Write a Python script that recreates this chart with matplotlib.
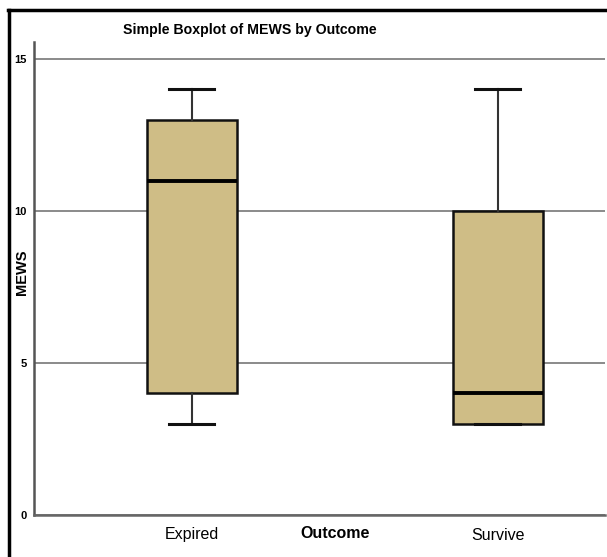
import matplotlib
matplotlib.use("Agg")
import matplotlib.pyplot as plt
from matplotlib.lines import Line2D

plt.rcParams['font.family'] = ['Liberation Sans', 'DejaVu Sans']

# summary values
categories = ['Expired', 'Survive']
whisker_low = [3, 3]
q1 = [4, 3]
medians = [11, 4]
q3 = [13, 10]
whisker_high = [14, 14]

box_color = '#CFBD86'

stats = []
for i, name in enumerate(categories):
    stats.append(dict(label=name, whislo=whisker_low[i], q1=q1[i], med=medians[i],
                      q3=q3[i], whishi=whisker_high[i], fliers=[]))

fig = plt.figure(figsize=(6.07, 5.57), dpi=100)
ax = fig.add_axes([34 / 607, 42 / 557, 571 / 607, 473 / 557])

ax.bxp(stats, positions=[1, 2], widths=0.294, capwidths=0.147, patch_artist=True,
       boxprops=dict(facecolor=box_color, edgecolor='#111111', linewidth=1.8),
       medianprops=dict(color='black', linewidth=2.8),
       whiskerprops=dict(color='#333333', linewidth=1.5),
       capprops=dict(color='#111111', linewidth=2.2),
       zorder=3)

ax.set_xlim(0.484, 2.35)
ax.set_ylim(0, 15.56)
ax.set_yticks([0, 5, 10, 15])
ax.yaxis.grid(True, color='#8a8a8a', linewidth=1.4, zorder=0)
ax.set_axisbelow(True)

for s in ['top', 'right']:
    ax.spines[s].set_visible(False)
ax.spines['left'].set_color('#555555')
ax.spines['left'].set_linewidth(1.8)
ax.spines['bottom'].set_color('#666666')
ax.spines['bottom'].set_linewidth(1.8)

ax.tick_params(axis='both', length=0)
ax.tick_params(axis='y', pad=5, labelsize=8)
for t in ax.get_yticklabels():
    t.set_fontweight('bold')
ax.tick_params(axis='x', pad=9, labelsize=11.5)

fig.text(22 / 607, 1 - 272 / 557, 'MEWS', fontsize=10.5, fontweight='bold',
         rotation=90, ha='center', va='center')
fig.text(335 / 607, 1 - 534 / 557, 'Outcome', fontsize=11.5, fontweight='bold',
         ha='center', va='center')
fig.text(250 / 607, 1 - 30 / 557, 'Simple Boxplot of MEWS by Outcome', fontsize=10.2,
         fontweight='bold', ha='center', va='center')

# outer frame (top and left edges)
fig.add_artist(Line2D([8 / 607, 605 / 607], [1 - 10 / 557, 1 - 10 / 557],
                      transform=fig.transFigure, color='black', linewidth=2.5))
fig.add_artist(Line2D([9 / 607, 9 / 607], [0, 1 - 10 / 557],
                      transform=fig.transFigure, color='black', linewidth=2.5))

fig.savefig('out.png', dpi=100)
